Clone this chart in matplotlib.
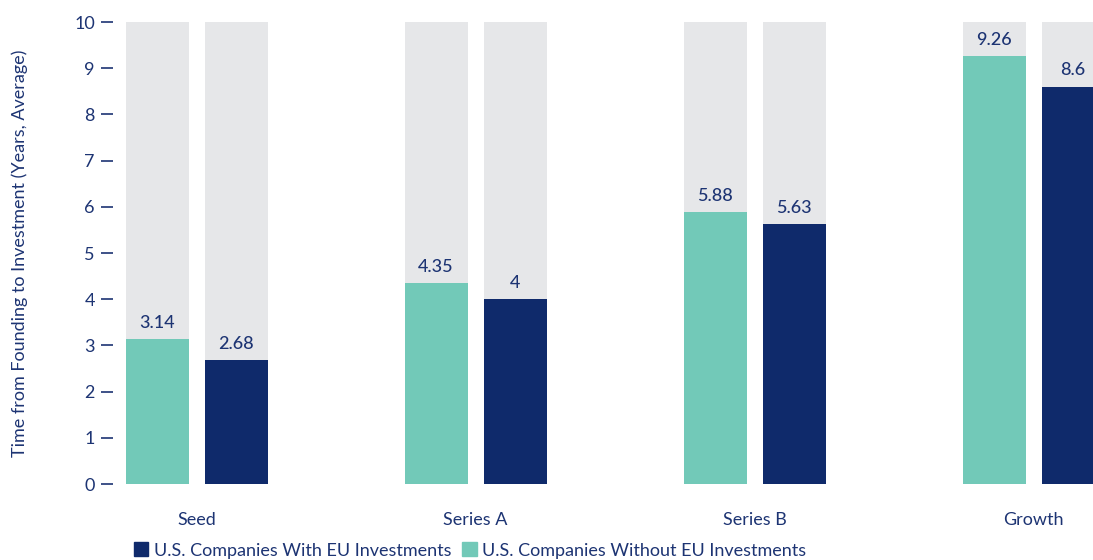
import matplotlib.pyplot as plt
import numpy as np
from matplotlib.patches import Patch

# data
stages = ["Seed", "Series A", "Series B", "Growth"]
without_eu = [3.14, 4.35, 5.88, 9.26]
with_eu = [2.68, 4, 5.63, 8.6]
y_max = 10

teal = "#72c9b8"
navy = "#0f2a6b"
grey = "#e6e7e9"
text_col = "#1d3473"

plt.rcParams['font.family'] = ['Lato', 'DejaVu Sans']

fig = plt.figure(figsize=(10.93, 5.6), dpi=100)
ax = fig.add_axes([0.1034, 0.1357, 0.8966, 0.825])

x = np.arange(len(stages))
width = 0.226
offset = 0.1416

# grey background columns
ax.bar(x - offset, [y_max] * len(x), width, color=grey, zorder=1)
ax.bar(x + offset, [y_max] * len(x), width, color=grey, zorder=1)

bars_wo = ax.bar(x - offset, without_eu, width, color=teal, zorder=2)
bars_w = ax.bar(x + offset, with_eu, width, color=navy, zorder=2)

for bars, vals in [(bars_wo, without_eu), (bars_w, with_eu)]:
    for b, v in zip(bars, vals):
        ax.annotate(f"{v:g}", (b.get_x() + b.get_width() / 2, v),
                    xytext=(0, 6), textcoords="offset points",
                    ha="center", va="bottom", fontsize=13, color=text_col,
                    fontweight="medium")

ax.set_xlim(-0.3, 3.213)
ax.set_ylim(0, y_max)
ax.set_yticks(range(0, 11))
ax.set_xticks(x)
ax.set_xticklabels(stages)

for s in ax.spines.values():
    s.set_visible(False)

ax.tick_params(axis="y", length=9, width=1.2, color=text_col, labelcolor=text_col,
               labelsize=13, pad=4)
ax.tick_params(axis="x", length=0, labelcolor=text_col, labelsize=13, pad=20)

ax.set_ylabel("Time from Founding to Investment (Years, Average)", color=text_col,
              fontsize=13, labelpad=33)

handles = [Patch(color=navy, label="U.S. Companies With EU Investments"),
           Patch(color=teal, label="U.S. Companies Without EU Investments")]
fig.legend(handles=handles, loc="center", bbox_to_anchor=(0.43, 0.017), ncol=2,
           frameon=False, fontsize=13, labelcolor=text_col,
           handlelength=0.8, handleheight=0.8, handletextpad=0.3,
           columnspacing=0.6)

fig.savefig("out.png", dpi=100)
